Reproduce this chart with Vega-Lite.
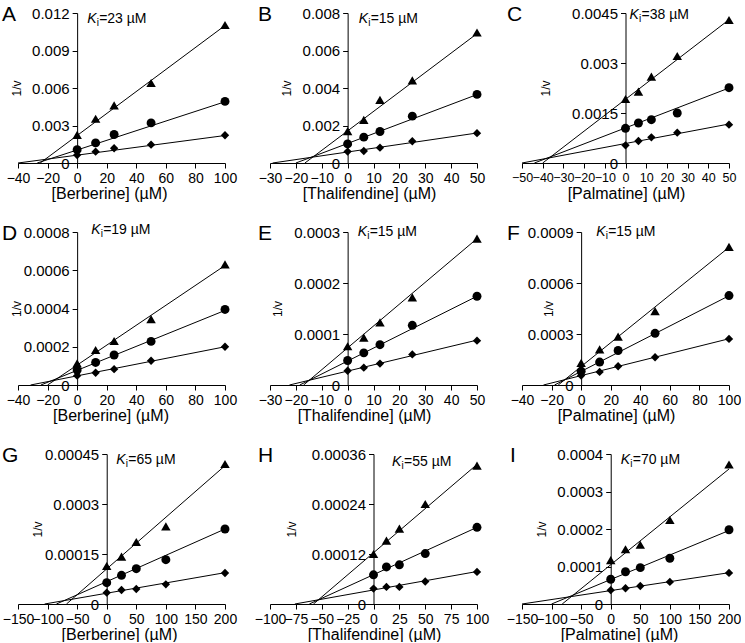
{
"$schema":"https://vega.github.io/schema/vega-lite/v6.json",
"padding":{"left":2,"top":4,"right":0,"bottom":0},
"config":{"font":"Liberation Sans","view":{"stroke":null},
"axis":{"grid":false,"domainColor":"black","tickColor":"black","labelColor":"black","titleColor":"black","labelFontSize":15,"titleFontWeight":"normal","tickSize":5,"labelFlush":false,"labelOverlap":false,"labelFont":"Liberation Sans","titleFont":"Liberation Sans"},
"axisX":{"titleFontSize":16,"labelFontSize":14,"labelPadding":3,"titlePadding":1,"titleBaseline":"top"},
"axisY":{"titleFontSize":12,"labelPadding":3,"titleBaseline":"middle"},
"text":{"font":"Liberation Sans","color":"black"}},
"datasets":{
"pts":[
{"p":"A","s":"t","x":0,"y":0.00225},{"p":"A","s":"t","x":12.5,"y":0.00354},{"p":"A","s":"t","x":25,"y":0.00461},{"p":"A","s":"t","x":50,"y":0.0064},{"p":"A","s":"t","x":100,"y":0.01104},
{"p":"A","s":"c","x":0,"y":0.00107},{"p":"A","s":"c","x":12.5,"y":0.00161},{"p":"A","s":"c","x":25,"y":0.00228},{"p":"A","s":"c","x":50,"y":0.00321},{"p":"A","s":"c","x":100,"y":0.00493},
{"p":"A","s":"d","x":0,"y":0.00064},{"p":"A","s":"d","x":12.5,"y":0.00091},{"p":"A","s":"d","x":25,"y":0.00118},{"p":"A","s":"d","x":50,"y":0.00147},{"p":"A","s":"d","x":100,"y":0.00222},
{"p":"B","s":"t","x":0,"y":0.0017},{"p":"B","s":"t","x":6.25,"y":0.0023},{"p":"B","s":"t","x":12.5,"y":0.00337},{"p":"B","s":"t","x":25,"y":0.00441},{"p":"B","s":"t","x":50,"y":0.00696},
{"p":"B","s":"c","x":0,"y":0.00102},{"p":"B","s":"c","x":6.25,"y":0.00138},{"p":"B","s":"c","x":12.5,"y":0.00168},{"p":"B","s":"c","x":25,"y":0.0025},{"p":"B","s":"c","x":50,"y":0.00366},
{"p":"B","s":"d","x":0,"y":0.00061},{"p":"B","s":"d","x":6.25,"y":0.00064},{"p":"B","s":"d","x":12.5,"y":0.00082},{"p":"B","s":"d","x":25,"y":0.00116},{"p":"B","s":"d","x":50,"y":0.00159},
{"p":"C","s":"t","x":0,"y":0.00192},{"p":"C","s":"t","x":6.25,"y":0.00214},{"p":"C","s":"t","x":12.5,"y":0.00259},{"p":"C","s":"t","x":25,"y":0.00321},{"p":"C","s":"t","x":50,"y":0.00429},
{"p":"C","s":"c","x":0,"y":0.00104},{"p":"C","s":"c","x":6.25,"y":0.0012},{"p":"C","s":"c","x":12.5,"y":0.0013},{"p":"C","s":"c","x":25,"y":0.0015},{"p":"C","s":"c","x":50,"y":0.00226},
{"p":"C","s":"d","x":0,"y":0.00053},{"p":"C","s":"d","x":6.25,"y":0.00066},{"p":"C","s":"d","x":12.5,"y":0.00077},{"p":"C","s":"d","x":25,"y":0.00091},{"p":"C","s":"d","x":50,"y":0.00115},
{"p":"D","s":"t","x":0,"y":0.000113},{"p":"D","s":"t","x":12.5,"y":0.000183},{"p":"D","s":"t","x":25,"y":0.00023},{"p":"D","s":"t","x":50,"y":0.000344},{"p":"D","s":"t","x":100,"y":0.000631},
{"p":"D","s":"c","x":0,"y":0.000078},{"p":"D","s":"c","x":12.5,"y":0.000118},{"p":"D","s":"c","x":25,"y":0.000157},{"p":"D","s":"c","x":50,"y":0.000228},{"p":"D","s":"c","x":100,"y":0.000395},
{"p":"D","s":"d","x":0,"y":0.000049},{"p":"D","s":"d","x":12.5,"y":0.000064},{"p":"D","s":"d","x":25,"y":0.000083},{"p":"D","s":"d","x":50,"y":0.000127},{"p":"D","s":"d","x":100,"y":0.0002},
{"p":"E","s":"t","x":0,"y":0.000076},{"p":"E","s":"t","x":6.25,"y":0.000093},{"p":"E","s":"t","x":12.5,"y":0.000123},{"p":"E","s":"t","x":25,"y":0.000172},{"p":"E","s":"t","x":50,"y":0.000287},
{"p":"E","s":"c","x":0,"y":0.000048},{"p":"E","s":"c","x":6.25,"y":0.000063},{"p":"E","s":"c","x":12.5,"y":0.000079},{"p":"E","s":"c","x":25,"y":0.000117},{"p":"E","s":"c","x":50,"y":0.000174},
{"p":"E","s":"d","x":0,"y":0.000028},{"p":"E","s":"d","x":6.25,"y":0.000034},{"p":"E","s":"d","x":12.5,"y":0.000042},{"p":"E","s":"d","x":25,"y":0.00006},{"p":"E","s":"d","x":50,"y":0.000087},
{"p":"F","s":"t","x":0,"y":0.00013},{"p":"F","s":"t","x":12.5,"y":0.00021},{"p":"F","s":"t","x":25,"y":0.000285},{"p":"F","s":"t","x":50,"y":0.000435},{"p":"F","s":"t","x":100,"y":0.000813},
{"p":"F","s":"c","x":0,"y":0.000081},{"p":"F","s":"c","x":12.5,"y":0.000135},{"p":"F","s":"c","x":25,"y":0.000203},{"p":"F","s":"c","x":50,"y":0.000304},{"p":"F","s":"c","x":100,"y":0.000526},
{"p":"F","s":"d","x":0,"y":0.000056},{"p":"F","s":"d","x":12.5,"y":0.000077},{"p":"F","s":"d","x":25,"y":0.00011},{"p":"F","s":"d","x":50,"y":0.000163},{"p":"F","s":"d","x":100,"y":0.000271},
{"p":"G","s":"t","x":0,"y":0.000114},{"p":"G","s":"t","x":25,"y":0.000142},{"p":"G","s":"t","x":50,"y":0.000186},{"p":"G","s":"t","x":100,"y":0.000233},{"p":"G","s":"t","x":200,"y":0.00042},
{"p":"G","s":"c","x":0,"y":0.000064},{"p":"G","s":"c","x":25,"y":0.000086},{"p":"G","s":"c","x":50,"y":0.000106},{"p":"G","s":"c","x":100,"y":0.000133},{"p":"G","s":"c","x":200,"y":0.000225},
{"p":"G","s":"d","x":0,"y":0.000034},{"p":"G","s":"d","x":25,"y":0.000042},{"p":"G","s":"d","x":50,"y":0.000045},{"p":"G","s":"d","x":100,"y":0.000059},{"p":"G","s":"d","x":200,"y":0.000093},
{"p":"H","s":"t","x":0,"y":0.00012},{"p":"H","s":"t","x":12.5,"y":0.000152},{"p":"H","s":"t","x":25,"y":0.000181},{"p":"H","s":"t","x":50,"y":0.00024},{"p":"H","s":"t","x":100,"y":0.000332},
{"p":"H","s":"c","x":0,"y":0.00007},{"p":"H","s":"c","x":12.5,"y":0.000089},{"p":"H","s":"c","x":25,"y":0.000094},{"p":"H","s":"c","x":50,"y":0.000121},{"p":"H","s":"c","x":100,"y":0.000184},
{"p":"H","s":"d","x":0,"y":0.000037},{"p":"H","s":"d","x":12.5,"y":0.000041},{"p":"H","s":"d","x":25,"y":0.000041},{"p":"H","s":"d","x":50,"y":0.000054},{"p":"H","s":"d","x":100,"y":0.000077},
{"p":"I","s":"t","x":0,"y":0.000117},{"p":"I","s":"t","x":25,"y":0.000146},{"p":"I","s":"t","x":50,"y":0.000158},{"p":"I","s":"t","x":100,"y":0.000224},{"p":"I","s":"t","x":200,"y":0.000372},
{"p":"I","s":"c","x":0,"y":0.000066},{"p":"I","s":"c","x":25,"y":0.000086},{"p":"I","s":"c","x":50,"y":0.000097},{"p":"I","s":"c","x":100,"y":0.000122},{"p":"I","s":"c","x":200,"y":0.000198},
{"p":"I","s":"d","x":0,"y":0.000037},{"p":"I","s":"d","x":25,"y":0.000042},{"p":"I","s":"d","x":50,"y":0.000048},{"p":"I","s":"d","x":100,"y":0.000059},{"p":"I","s":"d","x":200,"y":0.000083}
],
"fit":[
{"p":"A","s":"t","x":-25,"y":0},{"p":"A","s":"t","x":100,"y":0.011},{"p":"A","s":"c","x":-27,"y":0},{"p":"A","s":"c","x":100,"y":0.0049},{"p":"A","s":"d","x":-40,"y":0},{"p":"A","s":"d","x":100,"y":0.0022},
{"p":"B","s":"t","x":-16.5,"y":0},{"p":"B","s":"t","x":50,"y":0.0069},{"p":"B","s":"c","x":-20,"y":0},{"p":"B","s":"c","x":50,"y":0.00365},{"p":"B","s":"d","x":-29,"y":0},{"p":"B","s":"d","x":50,"y":0.0016},
{"p":"C","s":"t","x":-40,"y":0},{"p":"C","s":"t","x":50,"y":0.0043},{"p":"C","s":"c","x":-44,"y":0},{"p":"C","s":"c","x":50,"y":0.00225},{"p":"C","s":"d","x":-50,"y":0},{"p":"C","s":"d","x":50,"y":0.00117},
{"p":"D","s":"t","x":-20,"y":0},{"p":"D","s":"t","x":100,"y":0.000625},{"p":"D","s":"c","x":-24.5,"y":0},{"p":"D","s":"c","x":100,"y":0.00039},{"p":"D","s":"d","x":-31.5,"y":0},{"p":"D","s":"d","x":100,"y":0.0002},
{"p":"E","s":"t","x":-17,"y":0},{"p":"E","s":"t","x":50,"y":0.000287},{"p":"E","s":"c","x":-18.5,"y":0},{"p":"E","s":"c","x":50,"y":0.000174},{"p":"E","s":"d","x":-22.5,"y":0},{"p":"E","s":"d","x":50,"y":0.000088},
{"p":"F","s":"t","x":-15.5,"y":0},{"p":"F","s":"t","x":100,"y":0.00081},{"p":"F","s":"c","x":-18,"y":0},{"p":"F","s":"c","x":100,"y":0.000525},{"p":"F","s":"d","x":-25.5,"y":0},{"p":"F","s":"d","x":100,"y":0.000272},
{"p":"G","s":"t","x":-68,"y":0},{"p":"G","s":"t","x":200,"y":0.000415},{"p":"G","s":"c","x":-85,"y":0},{"p":"G","s":"c","x":200,"y":0.000225},{"p":"G","s":"d","x":-105,"y":0},{"p":"G","s":"d","x":200,"y":0.000094},
{"p":"H","s":"t","x":-58,"y":0},{"p":"H","s":"t","x":100,"y":0.000335},{"p":"H","s":"c","x":-62,"y":0},{"p":"H","s":"c","x":100,"y":0.000184},{"p":"H","s":"d","x":-76,"y":0},{"p":"H","s":"d","x":100,"y":0.000078},
{"p":"I","s":"t","x":-82,"y":0},{"p":"I","s":"t","x":200,"y":0.00036},{"p":"I","s":"c","x":-100,"y":0},{"p":"I","s":"c","x":200,"y":0.000196},{"p":"I","s":"d","x":-150,"y":0},{"p":"I","s":"d","x":200,"y":0.0000835}
]},
"columns":3,
"spacing":{"column":45,"row":69},
"bounds":"flush",
"concat":[
{"width":207,"height":150,
"encoding":{"x":{"field":"x","type":"quantitative","scale":{"domain":[-40,100],"nice":false,"zero":false},"axis":{"title":"[Berberine] (µM)","values":[-40,-20,0,20,40,60,80,100],"labelOverlap":false,"titleX":91,"titleY":22}},"y":{"field":"y","type":"quantitative","scale":{"domain":[0,0.012],"nice":false},"axis":{"title":"1/v","values":[0,0.003,0.006,0.009,0.012],"labelExpr":"''+datum.value","labelOverlap":false,"offset":-59.14,"titleX":-61,"titleY":75}}},
"layer":[
{"data":{"name":"fit"},"transform":[{"filter":"datum.p=='A'"}],"mark":{"type":"line","color":"black","strokeWidth":1},"encoding":{"detail":{"field":"s"}}},
{"data":{"name":"pts"},"transform":[{"filter":"datum.p=='A'"}],"mark":{"type":"point","filled":true,"color":"black","opacity":1},"encoding":{"shape":{"field":"s","type":"nominal","scale":{"domain":["t","c","d"],"range":["triangle-up","circle","diamond"]},"legend":null},"size":{"field":"s","type":"ordinal","scale":{"domain":["t","c","d"],"range":[90,70,55]},"legend":null}}},
{"data":{"values":[{"t":"A","x":-40,"y":0.012}]},"mark":{"type":"text","fontSize":21,"align":"left","baseline":"alphabetic","dx":-16,"dy":8},"encoding":{"text":{"field":"t"}}},
{"data":{"values":[{"t":"K","x":0,"y":0.012}]},"mark":{"type":"text","fontSize":14,"fontStyle":"italic","align":"left","baseline":"alphabetic","dx":10,"dy":10},"encoding":{"text":{"field":"t"}}},
{"data":{"values":[{"t":"i","x":0,"y":0.012}]},"mark":{"type":"text","fontSize":10,"align":"left","baseline":"alphabetic","dx":19.5,"dy":13},"encoding":{"text":{"field":"t"}}},
{"data":{"values":[{"t":"=23 µM","x":0,"y":0.012}]},"mark":{"type":"text","fontSize":14,"align":"left","baseline":"alphabetic","dx":22,"dy":10},"encoding":{"text":{"field":"t"}}}
]},
{"width":207,"height":150,
"encoding":{"x":{"field":"x","type":"quantitative","scale":{"domain":[-30,50],"nice":false,"zero":false},"axis":{"title":"[Thalifendine] (µM)","values":[-30,-20,-10,0,10,20,30,40,50],"labelOverlap":false,"titleX":99,"titleY":22}},"y":{"field":"y","type":"quantitative","scale":{"domain":[0,0.008],"nice":false},"axis":{"title":"1/v","values":[0,0.002,0.004,0.006,0.008],"labelExpr":"''+datum.value","labelOverlap":false,"offset":-77.63,"titleX":-61,"titleY":75}}},
"layer":[
{"data":{"name":"fit"},"transform":[{"filter":"datum.p=='B'"}],"mark":{"type":"line","color":"black","strokeWidth":1},"encoding":{"detail":{"field":"s"}}},
{"data":{"name":"pts"},"transform":[{"filter":"datum.p=='B'"}],"mark":{"type":"point","filled":true,"color":"black","opacity":1},"encoding":{"shape":{"field":"s","type":"nominal","scale":{"domain":["t","c","d"],"range":["triangle-up","circle","diamond"]},"legend":null},"size":{"field":"s","type":"ordinal","scale":{"domain":["t","c","d"],"range":[90,70,55]},"legend":null}}},
{"data":{"values":[{"t":"B","x":-30,"y":0.008}]},"mark":{"type":"text","fontSize":21,"align":"left","baseline":"alphabetic","dx":-12,"dy":8},"encoding":{"text":{"field":"t"}}},
{"data":{"values":[{"t":"K","x":0,"y":0.008}]},"mark":{"type":"text","fontSize":14,"fontStyle":"italic","align":"left","baseline":"alphabetic","dx":11,"dy":10},"encoding":{"text":{"field":"t"}}},
{"data":{"values":[{"t":"i","x":0,"y":0.008}]},"mark":{"type":"text","fontSize":10,"align":"left","baseline":"alphabetic","dx":20.5,"dy":13},"encoding":{"text":{"field":"t"}}},
{"data":{"values":[{"t":"=15 µM","x":0,"y":0.008}]},"mark":{"type":"text","fontSize":14,"align":"left","baseline":"alphabetic","dx":23,"dy":10},"encoding":{"text":{"field":"t"}}}
]},
{"width":207,"height":150,
"encoding":{"x":{"field":"x","type":"quantitative","scale":{"domain":[-50,50],"nice":false,"zero":false},"axis":{"title":"[Palmatine] (µM)","values":[-50,-40,-30,-20,-10,0,10,20,30,40,50],"labelFontSize":12.5,"labelOverlap":false,"titleX":104,"titleY":22}},"y":{"field":"y","type":"quantitative","scale":{"domain":[0,0.0045],"nice":false},"axis":{"title":"1/v","values":[0,0.0015,0.003,0.0045],"labelExpr":"''+datum.value","labelOverlap":false,"offset":-103.5,"titleX":-80,"titleY":75}}},
"layer":[
{"data":{"name":"fit"},"transform":[{"filter":"datum.p=='C'"}],"mark":{"type":"line","color":"black","strokeWidth":1},"encoding":{"detail":{"field":"s"}}},
{"data":{"name":"pts"},"transform":[{"filter":"datum.p=='C'"}],"mark":{"type":"point","filled":true,"color":"black","opacity":1},"encoding":{"shape":{"field":"s","type":"nominal","scale":{"domain":["t","c","d"],"range":["triangle-up","circle","diamond"]},"legend":null},"size":{"field":"s","type":"ordinal","scale":{"domain":["t","c","d"],"range":[90,70,55]},"legend":null}}},
{"data":{"values":[{"t":"C","x":-50,"y":0.0045}]},"mark":{"type":"text","fontSize":21,"align":"left","baseline":"alphabetic","dx":-15,"dy":8},"encoding":{"text":{"field":"t"}}},
{"data":{"values":[{"t":"K","x":0,"y":0.0045}]},"mark":{"type":"text","fontSize":14,"fontStyle":"italic","align":"left","baseline":"alphabetic","dx":4,"dy":6},"encoding":{"text":{"field":"t"}}},
{"data":{"values":[{"t":"i","x":0,"y":0.0045}]},"mark":{"type":"text","fontSize":10,"align":"left","baseline":"alphabetic","dx":13.5,"dy":9},"encoding":{"text":{"field":"t"}}},
{"data":{"values":[{"t":"=38 µM","x":0,"y":0.0045}]},"mark":{"type":"text","fontSize":14,"align":"left","baseline":"alphabetic","dx":16,"dy":6},"encoding":{"text":{"field":"t"}}}
]},
{"width":207,"height":153,
"encoding":{"x":{"field":"x","type":"quantitative","scale":{"domain":[-40,100],"nice":false,"zero":false},"axis":{"title":"[Berberine] (µM)","values":[-40,-20,0,20,40,60,80,100],"labelOverlap":false,"titleX":92.5,"titleY":22}},"y":{"field":"y","type":"quantitative","scale":{"domain":[0,0.0008],"nice":false},"axis":{"title":"1/v","values":[0,0.0002,0.0004,0.0006,0.0008],"labelExpr":"''+datum.value","labelOverlap":false,"offset":-59.14,"titleX":-61,"titleY":76.5}}},
"layer":[
{"data":{"name":"fit"},"transform":[{"filter":"datum.p=='D'"}],"mark":{"type":"line","color":"black","strokeWidth":1},"encoding":{"detail":{"field":"s"}}},
{"data":{"name":"pts"},"transform":[{"filter":"datum.p=='D'"}],"mark":{"type":"point","filled":true,"color":"black","opacity":1},"encoding":{"shape":{"field":"s","type":"nominal","scale":{"domain":["t","c","d"],"range":["triangle-up","circle","diamond"]},"legend":null},"size":{"field":"s","type":"ordinal","scale":{"domain":["t","c","d"],"range":[90,70,55]},"legend":null}}},
{"data":{"values":[{"t":"D","x":-40,"y":0.0008}]},"mark":{"type":"text","fontSize":21,"align":"left","baseline":"alphabetic","dx":-16,"dy":8},"encoding":{"text":{"field":"t"}}},
{"data":{"values":[{"t":"K","x":0,"y":0.0008}]},"mark":{"type":"text","fontSize":14,"fontStyle":"italic","align":"left","baseline":"alphabetic","dx":14,"dy":2},"encoding":{"text":{"field":"t"}}},
{"data":{"values":[{"t":"i","x":0,"y":0.0008}]},"mark":{"type":"text","fontSize":10,"align":"left","baseline":"alphabetic","dx":23.5,"dy":5},"encoding":{"text":{"field":"t"}}},
{"data":{"values":[{"t":"=19 µM","x":0,"y":0.0008}]},"mark":{"type":"text","fontSize":14,"align":"left","baseline":"alphabetic","dx":26,"dy":2},"encoding":{"text":{"field":"t"}}}
]},
{"width":207,"height":153,
"encoding":{"x":{"field":"x","type":"quantitative","scale":{"domain":[-30,50],"nice":false,"zero":false},"axis":{"title":"[Thalifendine] (µM)","values":[-30,-20,-10,0,10,20,30,40,50],"labelOverlap":false,"titleX":94,"titleY":22}},"y":{"field":"y","type":"quantitative","scale":{"domain":[0,0.0003],"nice":false},"axis":{"title":"1/v","values":[0,0.0001,0.0002,0.0003],"labelExpr":"''+datum.value","labelOverlap":false,"offset":-77.63,"titleX":-70,"titleY":76.5}}},
"layer":[
{"data":{"name":"fit"},"transform":[{"filter":"datum.p=='E'"}],"mark":{"type":"line","color":"black","strokeWidth":1},"encoding":{"detail":{"field":"s"}}},
{"data":{"name":"pts"},"transform":[{"filter":"datum.p=='E'"}],"mark":{"type":"point","filled":true,"color":"black","opacity":1},"encoding":{"shape":{"field":"s","type":"nominal","scale":{"domain":["t","c","d"],"range":["triangle-up","circle","diamond"]},"legend":null},"size":{"field":"s","type":"ordinal","scale":{"domain":["t","c","d"],"range":[90,70,55]},"legend":null}}},
{"data":{"values":[{"t":"E","x":-30,"y":0.0003}]},"mark":{"type":"text","fontSize":21,"align":"left","baseline":"alphabetic","dx":-12,"dy":8},"encoding":{"text":{"field":"t"}}},
{"data":{"values":[{"t":"K","x":0,"y":0.0003}]},"mark":{"type":"text","fontSize":14,"fontStyle":"italic","align":"left","baseline":"alphabetic","dx":10,"dy":4},"encoding":{"text":{"field":"t"}}},
{"data":{"values":[{"t":"i","x":0,"y":0.0003}]},"mark":{"type":"text","fontSize":10,"align":"left","baseline":"alphabetic","dx":19.5,"dy":7},"encoding":{"text":{"field":"t"}}},
{"data":{"values":[{"t":"=15 µM","x":0,"y":0.0003}]},"mark":{"type":"text","fontSize":14,"align":"left","baseline":"alphabetic","dx":22,"dy":4},"encoding":{"text":{"field":"t"}}}
]},
{"width":207,"height":153,
"encoding":{"x":{"field":"x","type":"quantitative","scale":{"domain":[-40,100],"nice":false,"zero":false},"axis":{"title":"[Palmatine] (µM)","values":[-40,-20,0,20,40,60,80,100],"labelOverlap":false,"titleX":94,"titleY":22}},"y":{"field":"y","type":"quantitative","scale":{"domain":[0,0.0009],"nice":false},"axis":{"title":"1/v","values":[0,0.0003,0.0006,0.0009],"labelExpr":"''+datum.value","labelOverlap":false,"offset":-59.14,"titleX":-33,"titleY":76.5}}},
"layer":[
{"data":{"name":"fit"},"transform":[{"filter":"datum.p=='F'"}],"mark":{"type":"line","color":"black","strokeWidth":1},"encoding":{"detail":{"field":"s"}}},
{"data":{"name":"pts"},"transform":[{"filter":"datum.p=='F'"}],"mark":{"type":"point","filled":true,"color":"black","opacity":1},"encoding":{"shape":{"field":"s","type":"nominal","scale":{"domain":["t","c","d"],"range":["triangle-up","circle","diamond"]},"legend":null},"size":{"field":"s","type":"ordinal","scale":{"domain":["t","c","d"],"range":[90,70,55]},"legend":null}}},
{"data":{"values":[{"t":"F","x":-40,"y":0.0009}]},"mark":{"type":"text","fontSize":21,"align":"left","baseline":"alphabetic","dx":-15,"dy":8},"encoding":{"text":{"field":"t"}}},
{"data":{"values":[{"t":"K","x":0,"y":0.0009}]},"mark":{"type":"text","fontSize":14,"fontStyle":"italic","align":"left","baseline":"alphabetic","dx":15,"dy":4},"encoding":{"text":{"field":"t"}}},
{"data":{"values":[{"t":"i","x":0,"y":0.0009}]},"mark":{"type":"text","fontSize":10,"align":"left","baseline":"alphabetic","dx":24.5,"dy":7},"encoding":{"text":{"field":"t"}}},
{"data":{"values":[{"t":"=15 µM","x":0,"y":0.0009}]},"mark":{"type":"text","fontSize":14,"align":"left","baseline":"alphabetic","dx":27,"dy":4},"encoding":{"text":{"field":"t"}}}
]},
{"width":207,"height":150,
"encoding":{"x":{"field":"x","type":"quantitative","scale":{"domain":[-150,200],"nice":false,"zero":false},"axis":{"title":"[Berberine] (µM)","values":[-150,-100,-50,0,50,100,150,200],"labelOverlap":false,"titleX":101,"titleY":22}},"y":{"field":"y","type":"quantitative","scale":{"domain":[0,0.00045],"nice":false},"axis":{"title":"1/v","values":[0,0.00015,0.0003,0.00045],"labelExpr":"''+datum.value","labelOverlap":false,"offset":-88.71,"titleX":-69,"titleY":75}}},
"layer":[
{"data":{"name":"fit"},"transform":[{"filter":"datum.p=='G'"}],"mark":{"type":"line","color":"black","strokeWidth":1},"encoding":{"detail":{"field":"s"}}},
{"data":{"name":"pts"},"transform":[{"filter":"datum.p=='G'"}],"mark":{"type":"point","filled":true,"color":"black","opacity":1},"encoding":{"shape":{"field":"s","type":"nominal","scale":{"domain":["t","c","d"],"range":["triangle-up","circle","diamond"]},"legend":null},"size":{"field":"s","type":"ordinal","scale":{"domain":["t","c","d"],"range":[90,70,55]},"legend":null}}},
{"data":{"values":[{"t":"G","x":-150,"y":0.00045}]},"mark":{"type":"text","fontSize":21,"align":"left","baseline":"alphabetic","dx":-16,"dy":8},"encoding":{"text":{"field":"t"}}},
{"data":{"values":[{"t":"K","x":0,"y":0.00045}]},"mark":{"type":"text","fontSize":14,"fontStyle":"italic","align":"left","baseline":"alphabetic","dx":9.5,"dy":10},"encoding":{"text":{"field":"t"}}},
{"data":{"values":[{"t":"i","x":0,"y":0.00045}]},"mark":{"type":"text","fontSize":10,"align":"left","baseline":"alphabetic","dx":19,"dy":13},"encoding":{"text":{"field":"t"}}},
{"data":{"values":[{"t":"=65 µM","x":0,"y":0.00045}]},"mark":{"type":"text","fontSize":14,"align":"left","baseline":"alphabetic","dx":21.5,"dy":10},"encoding":{"text":{"field":"t"}}}
]},
{"width":207,"height":150,
"encoding":{"x":{"field":"x","type":"quantitative","scale":{"domain":[-100,100],"nice":false,"zero":false},"axis":{"title":"[Thalifendine] (µM)","values":[-100,-75,-50,-25,0,25,50,75,100],"labelOverlap":false,"titleX":104,"titleY":22}},"y":{"field":"y","type":"quantitative","scale":{"domain":[0,0.00036],"nice":false},"axis":{"title":"1/v","values":[0,0.00012,0.00024,0.00036],"labelExpr":"''+datum.value","labelOverlap":false,"offset":-103.5,"titleX":-82,"titleY":75}}},
"layer":[
{"data":{"name":"fit"},"transform":[{"filter":"datum.p=='H'"}],"mark":{"type":"line","color":"black","strokeWidth":1},"encoding":{"detail":{"field":"s"}}},
{"data":{"name":"pts"},"transform":[{"filter":"datum.p=='H'"}],"mark":{"type":"point","filled":true,"color":"black","opacity":1},"encoding":{"shape":{"field":"s","type":"nominal","scale":{"domain":["t","c","d"],"range":["triangle-up","circle","diamond"]},"legend":null},"size":{"field":"s","type":"ordinal","scale":{"domain":["t","c","d"],"range":[90,70,55]},"legend":null}}},
{"data":{"values":[{"t":"H","x":-100,"y":0.00036}]},"mark":{"type":"text","fontSize":21,"align":"left","baseline":"alphabetic","dx":-12,"dy":8},"encoding":{"text":{"field":"t"}}},
{"data":{"values":[{"t":"K","x":0,"y":0.00036}]},"mark":{"type":"text","fontSize":14,"fontStyle":"italic","align":"left","baseline":"alphabetic","dx":18.5,"dy":12},"encoding":{"text":{"field":"t"}}},
{"data":{"values":[{"t":"i","x":0,"y":0.00036}]},"mark":{"type":"text","fontSize":10,"align":"left","baseline":"alphabetic","dx":28,"dy":15},"encoding":{"text":{"field":"t"}}},
{"data":{"values":[{"t":"=55 µM","x":0,"y":0.00036}]},"mark":{"type":"text","fontSize":14,"align":"left","baseline":"alphabetic","dx":30.5,"dy":12},"encoding":{"text":{"field":"t"}}}
]},
{"width":207,"height":150,
"encoding":{"x":{"field":"x","type":"quantitative","scale":{"domain":[-150,200],"nice":false,"zero":false},"axis":{"title":"[Palmatine] (µM)","values":[-150,-100,-50,0,50,100,150,200],"labelOverlap":false,"titleX":97,"titleY":22}},"y":{"field":"y","type":"quantitative","scale":{"domain":[0,0.0004],"nice":false},"axis":{"title":"1/v","values":[0,0.0001,0.0002,0.0003,0.0004],"labelExpr":"''+datum.value","labelOverlap":false,"offset":-88.71,"titleX":-69.5,"titleY":75}}},
"layer":[
{"data":{"name":"fit"},"transform":[{"filter":"datum.p=='I'"}],"mark":{"type":"line","color":"black","strokeWidth":1},"encoding":{"detail":{"field":"s"}}},
{"data":{"name":"pts"},"transform":[{"filter":"datum.p=='I'"}],"mark":{"type":"point","filled":true,"color":"black","opacity":1},"encoding":{"shape":{"field":"s","type":"nominal","scale":{"domain":["t","c","d"],"range":["triangle-up","circle","diamond"]},"legend":null},"size":{"field":"s","type":"ordinal","scale":{"domain":["t","c","d"],"range":[90,70,55]},"legend":null}}},
{"data":{"values":[{"t":"I","x":-150,"y":0.0004}]},"mark":{"type":"text","fontSize":21,"align":"left","baseline":"alphabetic","dx":-12,"dy":8},"encoding":{"text":{"field":"t"}}},
{"data":{"values":[{"t":"K","x":0,"y":0.0004}]},"mark":{"type":"text","fontSize":14,"fontStyle":"italic","align":"left","baseline":"alphabetic","dx":10,"dy":10},"encoding":{"text":{"field":"t"}}},
{"data":{"values":[{"t":"i","x":0,"y":0.0004}]},"mark":{"type":"text","fontSize":10,"align":"left","baseline":"alphabetic","dx":19.5,"dy":13},"encoding":{"text":{"field":"t"}}},
{"data":{"values":[{"t":"=70 µM","x":0,"y":0.0004}]},"mark":{"type":"text","fontSize":14,"align":"left","baseline":"alphabetic","dx":22,"dy":10},"encoding":{"text":{"field":"t"}}}
]}
]
}
